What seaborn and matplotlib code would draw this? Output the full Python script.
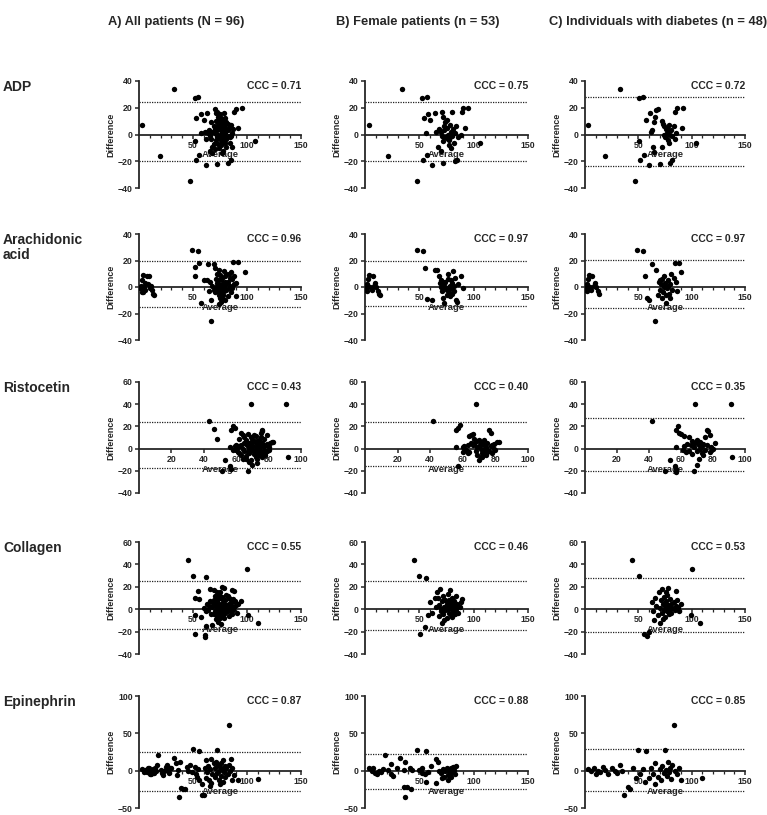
import numpy as np
import matplotlib
matplotlib.use("Agg")
import matplotlib.pyplot as plt
import seaborn as sns
from matplotlib.ticker import FixedLocator

sns.set_style("ticks")
plt.rcParams['font.family'] = ['Liberation Sans', 'DejaVu Sans']
plt.rcParams['font.weight'] = 'bold'
plt.rcParams['axes.labelweight'] = 'bold'

# ---------------- data ----------------
col_titles = ["A) All patients (N = 96)", "B) Female patients (n = 53)",
              "C) Individuals with diabetes (n = 48)"]
row_labels = ["ADP", "Arachidonic\nacid", "Ristocetin", "Collagen", "Epinephrin"]

adp_all = [(3,7),(19,-16),(32,34),(47,-35),(52,27),(55,28),(53,12),(52,-5),(53,-19),(56,-15),(57,15),(57,1),(60,11),(62,-23),(63,16),(63,2),(65,3),(66,-12),(68,-9),(70,-11),(72,-22),(70,19),(71,16),(72,17),(73,13),(74,10),(75,8),(76,12),(77,-6),(78,-12),(79,16),(80,5),(81,-3),(82,-21),(85,-19),(84,-2),(85,7),(86,1),(88,17),(90,19),(95,20),(92,5),(107,-5),(72,3),(73,0),(74,-2),(75,4),(76,-4),(77,2),(78,6),(79,-1),(80,1),(81,9),(82,3),(83,-1),(71,-4),(72,6),(73,-7),(74,5),(75,-1),(76,0),(77,7),(78,-3),(79,3),(80,-6),(70,1),(69,6),(68,2),(67,9),(66,-1),(64,1),(62,-3),(61,2),(71,10),(73,9),(75,15),(76,-8),(78,10),(80,12),(82,8),(84,-6),(86,-9),(87,4),(74,-10),(77,-14),(68,-14),(67,-3),(69,-7),(83,5),(85,-1),(72,-1),(76,3),(79,7),(81,-9),(70,4)]
adp_female = [(4,7),(21,-16),(34,34),(48,-35),(52,27),(57,28),(54,12),(58,15),(60,11),(64,16),(56,1),(53,-19),(57,-15),(62,-23),(65,2),(67,-9),(70,-12),(72,-21),(71,17),(72,13),(74,9),(80,17),(89,17),(90,20),(95,20),(92,5),(106,-6),(83,-20),(85,-19),(73,3),(74,-2),(75,5),(76,0),(77,-4),(78,7),(79,2),(80,-1),(81,4),(82,-6),(83,1),(84,6),(86,-2),(70,2),(68,4),(72,-5),(75,11),(77,-8),(79,-10),(73,6),(76,-3),(88,0),(71,-1),(78,-2)]
adp_diabetes = [(3,7),(19,-16),(33,34),(47,-35),(51,27),(54,28),(51,-5),(52,-19),(55,-15),(60,-23),(57,11),(61,16),(62,2),(63,3),(64,-9),(65,-13),(65,9),(66,13),(67,18),(68,19),(70,-22),(72,-9),(72,10),(73,8),(74,6),(75,-2),(76,4),(77,1),(78,-4),(79,7),(80,-21),(82,-19),(76,-1),(77,5),(78,2),(80,0),(81,3),(82,-1),(83,6),(84,-3),(84,17),(86,20),(92,20),(91,5),(104,-6),(85,1),(74,0),(79,-6)]

ara_all = [(1,-1),(2,1),(2.5,5),(4,9),(7,8.5),(9,8),(6,3),(10,-0.5),(12,-2),(13,-5),(2.5,-3.5),(6,-2),(8,2),(14,-6),(3,-1),(5,0),(4,-4),(11,1),(49,28),(55,27),(56,18),(52,15),(52,8),(57,-12),(60,5),(63,5),(64,17),(69,17),(67,-10),(67,-26),(70,14),(74,13),(72,10),(73,-3),(74,2),(75,-1),(76,6),(77,-5),(78,3),(79,0),(80,8),(81,-2),(82,4),(83,10),(84,1),(85,-4),(86,6),(87,19),(92,19),(98,11),(90,-7),(90,3),(74,-13),(75,-8),(76,-11),(78,-9),(80,-10),(71,0),(70,-4),(72,-2),(73,5),(75,9),(77,7),(79,12),(81,10),(83,-1),(85,11),(88,2),(86,-1),(73,1),(76,-2),(78,-6),(80,4),(82,-7),(84,7),(76,1),(77,-1),(79,-3),(81,2),(74,-6),(72,3),(71,6),(69,-2),(68,1),(66,4),(65,-3),(88,8)]
ara_female = [(1,-1),(2,2),(3,6),(4,9),(7,8),(9,3),(6,-2),(10,0),(12,-3),(13,-5),(2,-3),(8,1),(14,-6),(5,0),(48,28),(53,27),(55,14),(57,-9),(62,-10),(64,13),(66,13),(68,8),(70,5),(72,-8),(73,2),(74,4),(75,-2),(76,6),(77,-4),(78,1),(79,-1),(80,3),(81,12),(82,-3),(83,7),(84,-10),(85,-11),(86,2),(88,8),(90,-1),(71,-3),(73,-12),(75,-6),(77,0),(79,5),(78,-7),(80,-5),(76,10),(82,1),(70,0),(74,-1),(69,3),(72,4)]
ara_diabetes = [(1,-1),(2,2),(3,6),(4,9),(7,8),(9,3),(6,-2),(10,0),(12,-3),(13,-5),(2,-3),(8,1),(5,0),(49,28),(54,27),(56,8),(58,-8),(60,-10),(63,17),(66,-26),(67,13),(68,-6),(69,4),(70,-2),(71,2),(72,6),(73,-4),(74,0),(75,3),(76,-12),(77,-1),(78,5),(79,-5),(80,2),(81,10),(82,-2),(84,18),(88,18),(90,11),(85,4),(86,-3),(72,-8),(74,8),(76,-6),(78,1),(80,-8),(70,5),(83,7)]

ris_all = [(43,25),(46,18),(48,9),(51,-20),(53,-10),(56,-16),(57,-18),(56,1),(57,17),(58,20),(59,19),(60,-1),(61,1),(62,2),(62,-4),(63,3),(63,-6),(64,12),(64,0),(65,-2),(65,5),(66,8),(66,-7),(67,13),(67,2),(67.5,-20),(68,-4),(68,5),(69,40),(69,-10),(69,10),(70,-15),(70,3),(70,-1),(71,7),(71,-5),(72,1),(72,11),(72,-8),(73,-13),(73,4),(73,-2),(74,8),(74,0),(74,-6),(75,2),(75,14),(75,-3),(76,17),(76,16),(76,5),(76,-8),(77,-1),(77,9),(78,3),(78,-4),(79,12),(79,-2),(80,-1),(80,1),(81,5),(82,6),(83,6),(91,40),(92,-8),(66,-9),(68,-12),(65,10),(63,14),(62,9),(61,-3),(60,3),(71,-2),(73,7),(75,-6),(77,2),(79,4),(70,9),(72,-4),(74,3),(69,1),(67,-3),(71,12),(73,-9),(78,-6),(58,-1),(59,2),(64,-9),(66,4),(68,-1),(70,6),(75,10)]
ris_female = [(42,25),(56,17),(57,19),(58,21),(56,1),(57,-16),(60,-3),(61,2),(62,-1),(63,3),(64,11),(65,12),(66,13),(67,4),(68,40),(68,-2),(69,7),(69,-6),(70,2),(70,8),(71,-8),(71,0),(72,4),(72,-4),(73,-1),(73,3),(74,-6),(74,1),(75,-3),(75,5),(76,17),(77,14),(76,-2),(77,2),(78,-4),(78,3),(79,0),(80,-1),(81,6),(82,6),(70,-10),(72,-8),(66,3),(64,-3),(65,5),(67,9),(63,-4),(69,1),(71,5),(73,8),(75,-1),(60,1),(79,4)]
ris_diabetes = [(42,25),(50,-20),(53,-10),(56,-16),(57,-18),(57,-21),(57,1),(57,17),(58,20),(59,14),(60,13),(61,-1),(62,11),(62,2),(63,-3),(64,4),(65,10),(65,-2),(66,3),(67,7),(67,-5),(68,-20),(68,1),(69,40),(69,5),(70,-15),(70,8),(70,-2),(71,3),(71,-9),(72,0),(72,6),(73,-4),(73,2),(74,-6),(74,4),(75,-1),(75,10),(76,17),(77,16),(76,3),(78,12),(78,-3),(79,1),(81,5),(80,0),(91,40),(92,-8)]

col_all = [(45,44),(50,30),(62,29),(100,36),(110,-12),(101,-5),(52,-22),(61,-25),(61,-23),(62,-15),(68,-14),(76,-13),(52,10),(56,9),(55,16),(52,-5),(57,-7),(60,1),(62,-2),(63,5),(64,-1),(65,3),(66,18),(69,17),(66,7),(67,-4),(68,2),(69,8),(70,-2),(70,12),(71,4),(72,-6),(72,1),(73,9),(73,-3),(74,5),(74,14),(75,0),(75,-8),(76,3),(76,10),(77,20),(77,-2),(78,6),(78,-5),(79,19),(79,1),(80,-3),(80,8),(81,4),(81,-1),(82,12),(82,2),(83,-6),(83,5),(84,0),(84,9),(85,3),(85,-2),(86,17),(86,6),(87,-1),(88,16),(88,2),(89,7),(90,4),(91,-3),(92,5),(94,7),(71,-9),(73,-11),(75,15),(77,11),(79,-8),(81,13),(83,10),(69,-4),(70,5),(72,8),(74,-1),(76,-4),(78,0),(80,3),(82,-2),(84,4),(86,-4),(87,9),(72,15),(74,11),(68,6)]
col_female = [(45,44),(50,30),(56,28),(51,-22),(55,-16),(58,-5),(60,6),(62,-3),(64,10),(65,2),(66,15),(68,-6),(68,4),(69,18),(70,0),(71,7),(72,-4),(72,12),(73,2),(74,-1),(74,8),(75,5),(75,-8),(76,0),(76,14),(77,3),(77,-3),(78,6),(78,17),(79,1),(79,-5),(80,4),(80,10),(81,-2),(81,2),(82,7),(82,-1),(83,3),(84,0),(84,12),(85,5),(86,-3),(87,2),(88,6),(89,9),(73,-10),(71,-12),(67,10),(70,-2),(75,2),(80,-7),(83,-4),(77,8)]
col_diabetes = [(44,44),(51,30),(100,36),(108,-12),(99,-5),(55,-22),(58,-24),(60,-20),(65,-10),(63,6),(64,-2),(66,10),(67,3),(68,-5),(69,15),(70,1),(71,8),(72,-3),(72,18),(73,5),(74,-1),(74,11),(75,3),(75,-7),(76,0),(76,7),(77,13),(77,-2),(78,4),(78,19),(79,-4),(79,2),(80,9),(80,0),(81,5),(81,-3),(82,1),(83,6),(84,-1),(85,16),(85,3),(86,8),(87,2),(88,-2),(90,5),(70,-12),(73,-9),(76,15)]

epi_all = [(3,2),(5,-2),(6,1),(7,-2),(8,4),(9,3),(10,-5),(11,-4),(12,0),(13,2),(14,-3),(15,3),(16,-1),(17,8),(18,21),(20,1),(21,-3),(22,-6),(23,0),(25,5),(26,7),(27,0),(28,-3),(29,4),(30,3),(32,17),(34,10),(35,-6),(36,1),(37,-35),(38,12),(39,-23),(41,-24),(43,-25),(44,5),(45,0),(47,8),(49,-2),(50,29),(52,5),(53,-4),(54,-8),(55,2),(56,26),(56,-13),(58,-33),(60,-33),(61,4),(62,-10),(63,-2),(64,6),(65,-13),(66,2),(67,-17),(67,15),(68,-5),(69,10),(70,-8),(70,3),(71,12),(72,28),(72,-3),(73,7),(74,-12),(74,0),(75,5),(76,-7),(76,10),(77,2),(78,-15),(78,14),(79,-2),(80,6),(80,-9),(81,3),(82,-4),(83,61),(83,8),(84,-1),(85,15),(86,-13),(86,4),(88,-6),(92,-12),(110,-11),(62,14),(58,-18),(66,-20),(75,-18)]
epi_female = [(4,3),(6,-1),(7,4),(9,-3),(11,-5),(13,0),(15,-2),(17,2),(18,21),(21,1),(24,-4),(24,9),(26,-7),(29,4),(32,17),(36,1),(37,11),(36,-22),(37,-35),(39,-22),(41,4),(42,-25),(43,1),(48,28),(50,1),(52,-3),(52,4),(55,-4),(56,-15),(56,26),(58,-2),(61,6),(65,15),(67,12),(65,-17),(70,-3),(72,2),(73,-8),(74,-1),(75,4),(76,-12),(77,0),(78,-5),(79,3),(80,-2),(81,5),(82,1),(83,-4),(84,6),(71,-10),(68,0),(76,-6),(79,-8)]
epi_diabetes = [(3,2),(6,-1),(8,3),(10,-4),(12,0),(14,-2),(17,5),(19,1),(22,-5),(25,3),(28,0),(30,-3),(33,8),(35,-1),(37,-33),(40,-22),(42,-25),(45,4),(48,-10),(50,28),(52,-5),(54,2),(56,-15),(57,26),(60,-10),(62,3),(64,-4),(66,10),(68,-8),(70,2),(71,-13),(72,6),(74,-3),(75,28),(76,1),(77,-7),(78,12),(79,-2),(80,4),(81,-11),(82,8),(83,61),(84,0),(86,-5),(88,3),(90,-12),(110,-10),(66,-18)]

# limits of agreement (upper, lower) per column
adp_loa = [(24.5, -19.7), (24.2, -19.8), (28.0, -23.5)]
ara_loa = [(19.6, -14.8), (19.5, -14.0), (20.5, -15.5)]
ris_loa = [(23.9, -17.7), (24.1, -15.5), (27.7, -20.5)]
col_loa = [(24.8, -17.9), (25.5, -18.5), (28.0, -20.0)]
epi_loa = [(25.4, -27.7), (22.3, -24.1), (29.0, -27.0)]

adp_ccc = ["0.71", "0.75", "0.72"]
ara_ccc = ["0.96", "0.97", "0.97"]
ris_ccc = ["0.43", "0.40", "0.35"]
col_ccc = ["0.55", "0.46", "0.53"]
epi_ccc = ["0.87", "0.88", "0.85"]

minor150 = [v for v in range(10, 150, 10) if v % 50]
rows = [
    dict(data=[adp_all, adp_female, adp_diabetes], loa=adp_loa, ccc=adp_ccc,
         ylim=(-40, 40), yticks=[-40, -20, 0, 20, 40], xlim=(0, 150),
         xmaj=[50, 100, 150], xmin=minor150),
    dict(data=[ara_all, ara_female, ara_diabetes], loa=ara_loa, ccc=ara_ccc,
         ylim=(-40, 40), yticks=[-40, -20, 0, 20, 40], xlim=(0, 150),
         xmaj=[50, 100, 150], xmin=minor150),
    dict(data=[ris_all, ris_female, ris_diabetes], loa=ris_loa, ccc=ris_ccc,
         ylim=(-40, 60), yticks=[-40, -20, 0, 20, 40, 60], xlim=(0, 100),
         xmaj=[20, 40, 60, 80, 100], xmin=[]),
    dict(data=[col_all, col_female, col_diabetes], loa=col_loa, ccc=col_ccc,
         ylim=(-40, 60), yticks=[-40, -20, 0, 20, 40, 60], xlim=(0, 150),
         xmaj=[50, 100, 150], xmin=minor150),
    dict(data=[epi_all, epi_female, epi_diabetes], loa=epi_loa, ccc=epi_ccc,
         ylim=(-50, 100), yticks=[-50, 0, 50, 100], xlim=(0, 150),
         xmaj=[50, 100, 150], xmin=minor150),
]

# ---------------- layout ----------------
W, H = 767, 815
fig = plt.figure(figsize=(W / 100, H / 100), dpi=100)

col_left = [139, 365, 585]
col_width = [162, 163, 160]
row_top = [81, 234, 382, 542, 696]
row_height = [107, 106, 111, 112, 112]

def rect(l, t, w, h):
    return [l / W, 1 - (t + h) / H, w / W, h / H]

for r, cfg in enumerate(rows):
    for c in range(3):
        ax = fig.add_axes(rect(col_left[c], row_top[r], col_width[c], row_height[r]))
        pts = np.array(cfg['data'][c], dtype=float)
        up, lo = cfg['loa'][c]
        ax.axhline(up, color='#222222', ls=(0, (1, 1)), lw=0.9, zorder=1)
        ax.axhline(lo, color='#222222', ls=(0, (1, 1)), lw=0.9, zorder=1)
        sns.scatterplot(x=pts[:, 0], y=pts[:, 1], ax=ax, color='black', s=15,
                        linewidth=0, zorder=3, legend=False)
        ax.set_xlim(*cfg['xlim'])
        ax.set_ylim(*cfg['ylim'])
        ax.set_yticks(cfg['yticks'])
        ax.xaxis.set_major_locator(FixedLocator(cfg['xmaj']))
        ax.xaxis.set_minor_locator(FixedLocator(cfg['xmin']))
        for s in ['top', 'right']:
            ax.spines[s].set_visible(False)
        ax.spines['bottom'].set_position(('data', 0))
        ax.spines['bottom'].set_linewidth(1.3)
        ax.spines['left'].set_linewidth(1.3)
        ax.tick_params(axis='both', which='major', labelsize=6.3, length=3,
                       width=1.1, pad=1.5, direction='out')
        ax.tick_params(axis='x', which='minor', length=2, width=0.9, direction='out')
        ax.set_xlabel('Average', fontsize=6.8, fontweight='bold', labelpad=0.5)
        ax.set_ylabel('Difference', fontsize=6.5, fontweight='bold', labelpad=2)
        ax.text(1.0, 1.0, 'CCC = ' + cfg['ccc'][c], transform=ax.transAxes,
                ha='right', va='top', fontsize=7.5, fontweight='bold')
        ax.set_facecolor('none')
    fig.text(3 / W, 1 - (row_top[r] - 1) / H, row_labels[r], ha='left', va='top',
             fontsize=10, fontweight='bold', linespacing=1.1)

title_x = [176, 418, 658]
for c in range(3):
    fig.text(title_x[c] / W, 1 - 22 / H, col_titles[c], ha='center', va='center',
             fontsize=9.3, fontweight='bold')

fig.savefig('out.png', dpi=100, facecolor='white')
